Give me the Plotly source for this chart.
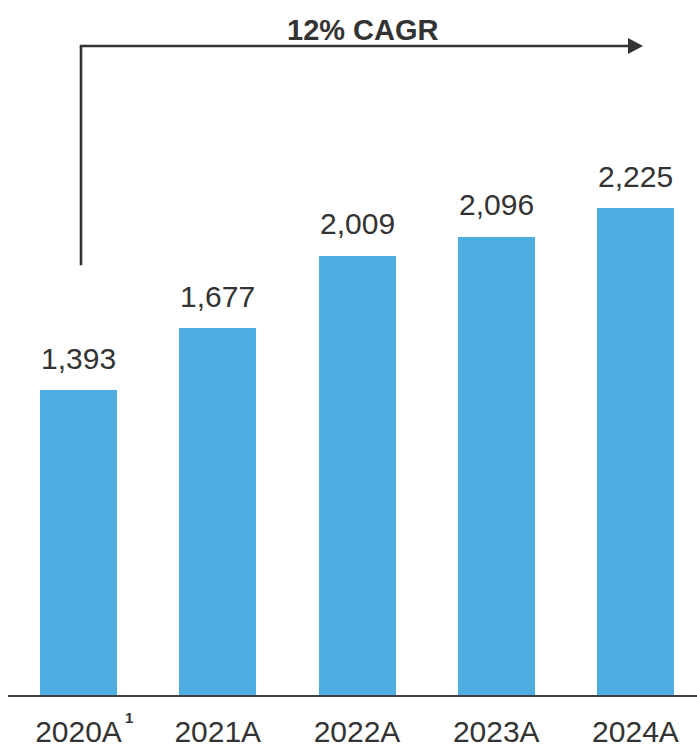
import plotly.graph_objects as go

categories = ["2020A", "2021A", "2022A", "2023A", "2024A"]
values = [1393, 1677, 2009, 2096, 2225]
value_labels = ["1,393", "1,677", "2,009", "2,096", "2,225"]
title_text = "12% CAGR"
footnote = "1"

BAR_COLOR = "#4FAEE1"
TEXT_COLOR = "#333333"
LINE_COLOR = "#333333"

x = list(range(len(categories)))

fig = go.Figure()
fig.add_trace(go.Bar(
    x=x, y=values, width=0.553, marker=dict(color=BAR_COLOR, line=dict(width=0)),
    hoverinfo="skip",
))

# value labels above bars
for xi, v, lab in zip(x, values, value_labels):
    fig.add_annotation(x=xi, y=v, text=lab, showarrow=False, xanchor="center",
                       yanchor="middle", yshift=32,
                       font=dict(family="Liberation Sans, Arial", size=30, color=TEXT_COLOR))

# footnote superscript for first tick
fig.add_annotation(x=0, y=0, text="<b>" + footnote + "</b>", showarrow=False,
                   xanchor="center", yanchor="middle", xshift=50, yshift=-22,
                   font=dict(family="Liberation Sans, Arial", size=15, color=TEXT_COLOR))

# CAGR arrow
ax0, ax1, tip = 0.018, 3.946, 4.054
ybot, ytop, half = 1965, 2968, 36.5
fig.add_shape(type="line", x0=ax0, x1=ax0, y0=ybot, y1=ytop,
              line=dict(color=LINE_COLOR, width=2.6))
fig.add_shape(type="line", x0=ax0 - 0.009, x1=ax1, y0=ytop, y1=ytop,
              line=dict(color=LINE_COLOR, width=2.6))
fig.add_shape(type="path",
              path=f"M {ax1},{ytop - half} L {tip},{ytop} L {ax1},{ytop + half} Z",
              fillcolor=LINE_COLOR, line=dict(color=LINE_COLOR, width=0))
fig.add_annotation(x=2.043, y=3041, text="<b>" + title_text + "</b>", showarrow=False,
                   xanchor="center", yanchor="middle",
                   font=dict(family="Liberation Sans, Arial", size=29, color=TEXT_COLOR))

fig.update_layout(
    width=697, height=748,
    margin=dict(l=8, r=0, t=0, b=51),
    paper_bgcolor="white", plot_bgcolor="white",
    showlegend=False,
    bargap=0,
    xaxis=dict(range=[-0.5063, 4.4417], tickvals=x, ticktext=categories,
               showgrid=False, zeroline=False, showline=True, linecolor="#3d4145",
               linewidth=2.3, ticks="", fixedrange=True, ticklabelstandoff=9,
               tickfont=dict(family="Liberation Sans, Arial", size=30, color=TEXT_COLOR)),
    yaxis=dict(range=[0, 3178], visible=False, showgrid=False, zeroline=False,
               fixedrange=True),
)

fig.write_html("out.html")
